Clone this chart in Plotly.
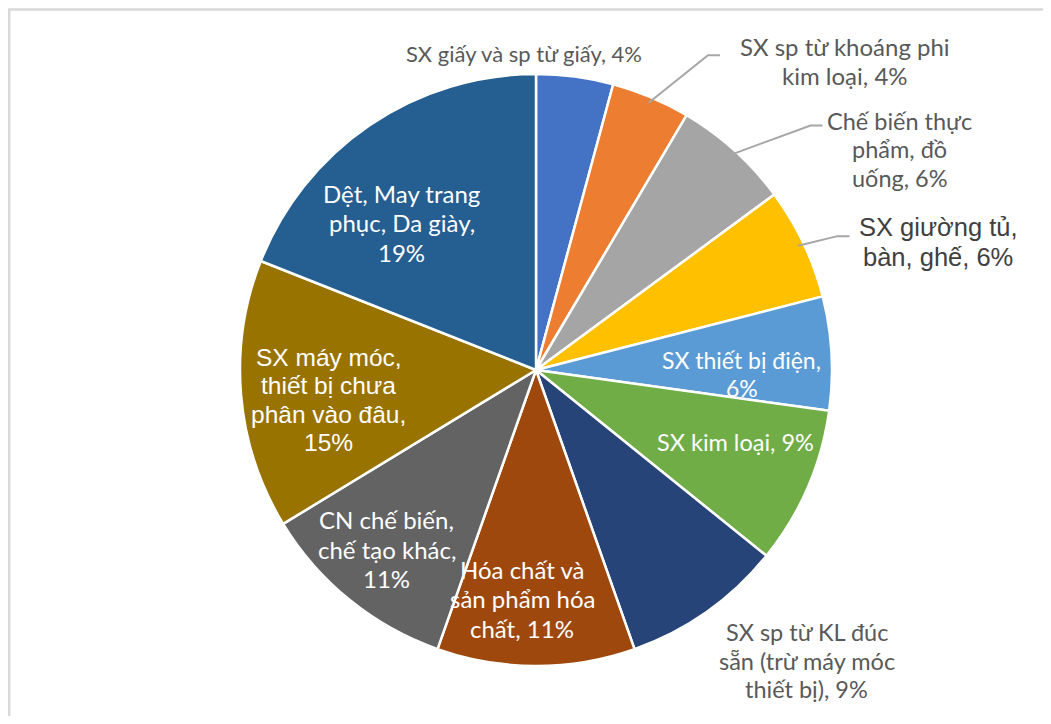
import math
import plotly.graph_objects as go

# ---------------- data ----------------
categories = [
    "SX giấy và sp từ giấy",
    "SX sp từ khoáng phi kim loại",
    "Chế biến thực phẩm, đồ uống",
    "SX giường tủ, bàn, ghế",
    "SX thiết bị điện",
    "SX kim loại",
    "SX sp từ KL đúc sẵn (trừ máy móc thiết bị)",
    "Hóa chất và sản phẩm hóa chất",
    "CN chế biến, chế tạo khác",
    "SX máy móc, thiết bị chưa phân vào đâu",
    "Dệt, May trang phục, Da giày",
]
values = [4.2, 4.3, 6.4, 6.1, 6.2, 8.6, 8.8, 10.8, 10.9, 14.7, 19.0]
label_templates = [
    "SX giấy và sp từ giấy, {p}%",
    "SX sp từ khoáng phi<br>kim loại, {p}%",
    "Chế biến thực<br>phẩm, đồ<br>uống, {p}%",
    "SX giường tủ,<br>bàn, ghế, {p}%",
    "SX thiết bị điện,<br>{p}%",
    "SX kim loại, {p}%",
    "SX sp từ KL đúc<br>sẵn (trừ máy móc<br>thiết bị), {p}%",
    "Hóa chất và<br>sản phẩm hóa<br>chất, {p}%",
    "CN chế biến,<br>chế tạo khác,<br>{p}%",
    "SX máy móc,<br>thiết bị chưa<br>phân vào đâu,<br>{p}%",
    "Dệt, May trang<br>phục, Da giày,<br>{p}%",
]

# ---------------- styling / layout ----------------
colors = ["#4472C4", "#ED7D31", "#A5A5A5", "#FFC000", "#5B9BD5", "#70AD47",
          "#264478", "#9E480E", "#636363", "#997300", "#255E91"]

OFF = 8                      # page body margin
W, H = 1051 - 2 * OFF, 724 - 2 * OFF
CX, CY, R = 536, 370, 296    # pie centre / radius in page pixels

# label placement: radial fraction, pixel nudge of label centre, leader end offset
lab_r = [1.0, 1.0, 1.0, 1.0, 0.71, 0.73, 1.0, 0.77, 0.78, 0.72, 0.67]
lab_d = [(-51, -23), (194, -36), (165, -1), (135, -1), (-4, 16), (1, -14),
         (100, 49), (-14, 1), (-4, 0), (5, 12), (-23, 17)]
leader_end = [None, (-125, -6), (-77, -24), (-89, -6), None, None, None,
              None, None, None, None]
lab_inside = [False, False, False, False, True, True, False, True, True, True, True]
arial_like = [False, False, False, True, False, False, False, False, False, True, False]
lab_size = [22, 24, 23.5, 25.5, 23, 23.5, 23.5, 24, 24, 24.5, 24]


def px(x):
    return (x - OFF) / W


def py(y):
    return 1 - (y - OFF) / H


total = sum(values)
pcts = [round(v / total * 100) for v in values]

fig = go.Figure()
fig.add_trace(go.Pie(
    labels=categories,
    values=values,
    sort=False,
    direction="clockwise",
    rotation=0,
    marker=dict(colors=colors, line=dict(color="#FFFFFF", width=2.5)),
    textinfo="none",
    hoverinfo="label+percent",
    showlegend=False,
    domain=dict(x=[px(CX - R), px(CX + R)], y=[py(CY + R), py(CY - R)]),
))

annotations = []
shapes = []
cum = 0.0
for i, v in enumerate(values):
    mid = (cum + v / 2) / total * 2 * math.pi
    cum += v
    sx, sy = math.sin(mid), -math.cos(mid)
    bx = CX + lab_r[i] * R * sx
    by = CY + lab_r[i] * R * sy
    lx, ly = bx + lab_d[i][0], by + lab_d[i][1]
    lines = label_templates[i].format(p=pcts[i]).split("<br>")
    size = lab_size[i]
    if arial_like[i]:
        fam, ls = "Liberation Sans, Arial", size * 1.15
    else:
        fam, ls = "Lato", size * 1.22
    if lab_inside[i]:
        col = "#FFFFFF"
    else:
        col = "#404040" if arial_like[i] else "#595959"
    n = len(lines)
    for k, line in enumerate(lines):
        yy = ly + (k - (n - 1) / 2) * ls
        annotations.append(dict(
            x=px(lx), y=py(yy), xref="paper", yref="paper",
            text=line, showarrow=False, align="center",
            xanchor="center", yanchor="middle", borderpad=0,
            font=dict(family=fam, size=size, color=col),
        ))
    if leader_end[i] is not None:
        e0x, e0y = CX + 0.98 * R * sx, CY + 0.98 * R * sy
        enx, eny = lx + leader_end[i][0], ly + leader_end[i][1]
        elx, ely = enx - 12, eny
        path = (f"M {px(e0x)},{py(e0y)} L {px(elx)},{py(ely)} "
                f"L {px(enx)},{py(eny)}")
        shapes.append(dict(type="path", xref="paper", yref="paper", path=path,
                           line=dict(color="#A6A6A6", width=2)))

# chart-area frame (only left and top edges are visible)
shapes.append(dict(type="rect", xref="paper", yref="paper",
                   x0=px(OFF + 1.2), x1=px(1051 + 40), y0=py(724 + 40), y1=py(OFF + 1.5),
                   line=dict(color="#D9D9D9", width=2.5)))

fig.update_layout(
    width=W, height=H,
    margin=dict(l=0, r=0, t=0, b=0),
    paper_bgcolor="#FFFFFF",
    plot_bgcolor="#FFFFFF",
    annotations=annotations,
    shapes=shapes,
    font=dict(family="Lato"),
)

fig.write_html("out.html")
